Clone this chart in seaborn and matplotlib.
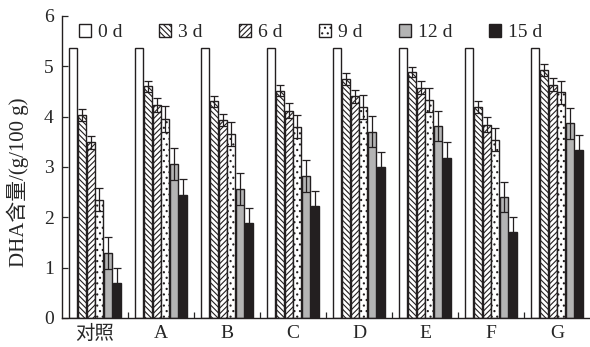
import matplotlib
matplotlib.use("Agg")
import matplotlib.pyplot as plt
import matplotlib.ticker as ticker
from matplotlib.patches import Patch
import numpy as np
import pandas as pd
import seaborn as sns

groups = ["对照", "A", "B", "C", "D", "E", "F", "G"]
days = ["0 d", "3 d", "6 d", "9 d", "12 d", "15 d"]

d0 = [5.36, 5.36, 5.36, 5.36, 5.36, 5.36, 5.36, 5.36]
d3 = [4.04, 4.60, 4.30, 4.51, 4.74, 4.88, 4.19, 4.93]
d6 = [3.49, 4.23, 3.94, 4.12, 4.40, 4.57, 3.84, 4.63]
d9 = [2.35, 3.96, 3.65, 3.80, 4.19, 4.33, 3.54, 4.48]
d12 = [1.29, 3.06, 2.56, 2.82, 3.70, 3.82, 2.40, 3.87]
d15 = [0.69, 2.45, 1.89, 2.23, 3.00, 3.18, 1.70, 3.34]

e0 = [0, 0, 0, 0, 0, 0, 0, 0]
e3 = [0.12, 0.11, 0.10, 0.11, 0.12, 0.10, 0.12, 0.12]
e6 = [0.13, 0.13, 0.12, 0.15, 0.12, 0.13, 0.15, 0.13]
e9 = [0.23, 0.26, 0.24, 0.23, 0.23, 0.24, 0.23, 0.22]
e12 = [0.31, 0.32, 0.32, 0.32, 0.31, 0.30, 0.30, 0.31]
e15 = [0.30, 0.31, 0.30, 0.30, 0.30, 0.31, 0.30, 0.30]

values = [d0, d3, d6, d9, d12, d15]
errors = [e0, e3, e6, e9, e12, e15]

colors = ["white", "white", "white", "white", "#b4b4b4", "#231f20"]
hatches = [None, "\\\\\\\\\\\\", "//////", "...", None, None]

rows = []
for day, vals in zip(days, values):
    for g, v in zip(groups, vals):
        rows.append({"group": g, "day": day, "DHA": v})
df = pd.DataFrame(rows)

sns.set_style("ticks")
plt.rcParams["font.family"] = ["Liberation Serif", "Noto Sans CJK SC"]
plt.rcParams["hatch.linewidth"] = 0.8

fig = plt.figure(figsize=(5.9, 3.47), dpi=100)
ax = fig.add_axes([0.105, 0.084, 0.895, 0.87])

sns.barplot(data=df, x="group", y="DHA", hue="day", order=groups, hue_order=days,
            palette=colors, width=0.8, gap=0.08, errorbar=None, ax=ax, legend=False,
            edgecolor="#231f20", linewidth=1.0)

bar_sets = list(ax.containers)
for i, cont in enumerate(bar_sets):
    for j, bar in enumerate(cont):
        if hatches[i]:
            bar.set_hatch(hatches[i])
        bar.set_facecolor(colors[i])
        bar.set_edgecolor("#231f20")
        err = errors[i][j]
        if err > 0:
            cx = bar.get_x() + bar.get_width() / 2
            ax.errorbar(cx, bar.get_height(), yerr=err, fmt="none",
                        ecolor="#231f20", elinewidth=0.9, capsize=2.8, capthick=0.9)

ax.set_ylim(0, 6)
ax.set_xlim(-0.5, 7.5)
ax.yaxis.set_major_locator(ticker.MultipleLocator(1))
ax.set_xticks(range(len(groups)))
ax.set_xticklabels(groups)
ax.set_xticks(np.arange(0.5, 7, 1), minor=True)
ax.tick_params(axis="x", which="major", length=0, labelsize=14, pad=5)
ax.tick_params(axis="x", which="minor", direction="in", length=4, width=0.9)
ax.tick_params(axis="y", direction="in", length=4, width=0.9, labelsize=14, pad=6)
ax.set_xlabel("")
ax.set_ylabel("DHA含量/(g/100 g)", fontsize=15)
ax.yaxis.set_label_coords(-0.062, 0.45)
for s in ["top", "right"]:
    ax.spines[s].set_visible(False)
for s in ["left", "bottom"]:
    ax.spines[s].set_linewidth(1.0)
    ax.spines[s].set_color("#231f20")

handles = [Patch(facecolor=c, edgecolor="#231f20", hatch=h, label=d)
           for c, h, d in zip(colors, hatches, days)]
ax.legend(handles=handles, ncol=6, loc="upper left", bbox_to_anchor=(0.0, 1.03),
          frameon=False, fontsize=14, handlelength=0.6, handleheight=0.6,
          handletextpad=0.35, columnspacing=1.9)

fig.savefig("out.png", dpi=100)
